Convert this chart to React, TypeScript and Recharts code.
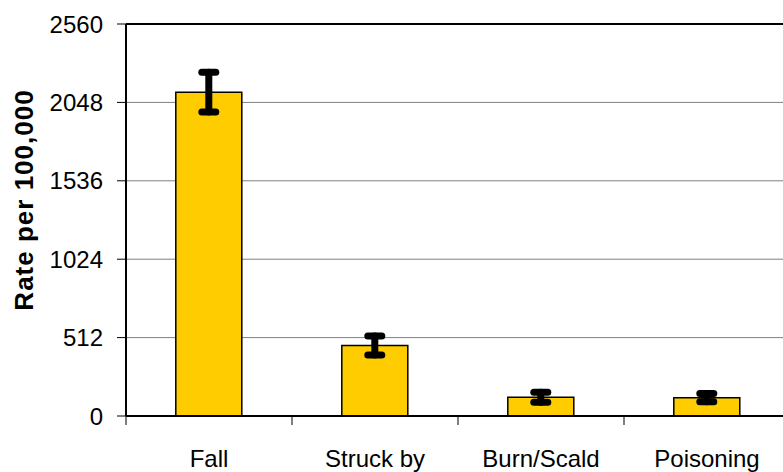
import React from 'react';
import { BarChart, Bar, XAxis, YAxis, CartesianGrid, ErrorBar, ReferenceLine } from 'recharts';

const categories = ['Fall', 'Struck by', 'Burn/Scald', 'Poisoning'];
const rates = [2115, 460, 122, 120];
const errors = [130, 62, 33, 27];
const yTicks = [0, 512, 1024, 1536, 2048, 2560];

const data = categories.map((name, i) => ({ name, value: rates[i], err: errors[i] }));

const FONT = '"Liberation Sans", Arial, sans-serif';

const CategoryTick = (props: any) => {
  const { x, y, payload } = props;
  const half = payload && typeof payload.offset === 'number' && payload.offset > 0 ? payload.offset : 83;
  return (
    <g>
      <line x1={x - half} y1={y} x2={x - half} y2={y + 9} stroke="#000" strokeWidth={1} />
      <text x={x} y={y + 51} textAnchor="middle" fontSize={24} fontFamily={FONT} fill="#000">
        {payload.value}
      </text>
    </g>
  );
};

const YLabel = (props: any) => {
  const vb = props.viewBox || { x: 0, y: 24, width: 126, height: 392 };
  const cx = 24;
  const cy = vb.y + vb.height / 2 - 20;
  return (
    <text
      transform={`translate(${cx},${cy}) rotate(-90)`}
      textAnchor="middle"
      dominantBaseline="central"
      fontSize={26}
      fontWeight="bold"
      letterSpacing={1}
      fontFamily={FONT}
      fill="#000"
    >
      Rate per 100,000
    </text>
  );
};

export default function App() {
  return (
    <div style={{ position: 'absolute', left: 0, top: 0, width: 783, height: 472, overflow: 'hidden', background: '#fff' }}>
      <BarChart
        width={1000}
        height={472}
        data={data}
        margin={{ top: 24, right: 0, left: 0, bottom: 0 }}
        barCategoryGap="30%"
      >
        <CartesianGrid horizontal vertical={false} stroke="#808080" strokeWidth={1} />
        <XAxis
          dataKey="name"
          height={56}
          padding={{ left: 0, right: 210 }}
          axisLine={{ stroke: '#000', strokeWidth: 2 }}
          tickLine={false}
          tickSize={0}
          tickMargin={0}
          interval={0}
          tick={<CategoryTick />}
        />
        <YAxis
          width={126}
          domain={[0, 2560]}
          ticks={yTicks}
          interval={0}
          axisLine={{ stroke: '#000', strokeWidth: 2 }}
          tickLine={{ stroke: '#000', strokeWidth: 1 }}
          tickSize={9}
          tickMargin={14}
          tick={{ fontSize: 24, fontFamily: FONT, fill: '#000' }}
          label={<YLabel />}
        />
        <ReferenceLine y={2560} stroke="#000" strokeWidth={2} ifOverflow="extendDomain" />
        <Bar dataKey="value" fill="#FFCC00" stroke="#000" strokeWidth={1.5} isAnimationActive={false}>
          <ErrorBar dataKey="err" width={7} stroke="#000" strokeWidth={7} strokeLinecap="round" isAnimationActive={false} />
        </Bar>
      </BarChart>
    </div>
  );
}
